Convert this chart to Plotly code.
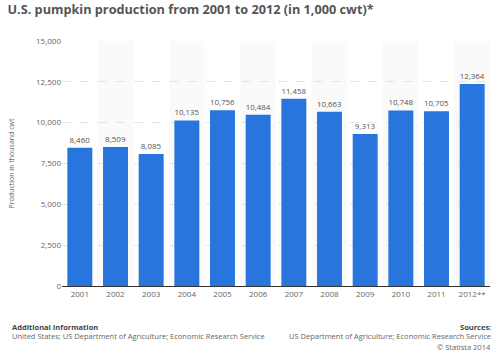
import plotly.graph_objects as go

years = ["2001", "2002", "2003", "2004", "2005", "2006", "2007", "2008", "2009", "2010", "2011", "2012**"]
production = [8460, 8509, 8085, 10135, 10756, 10484, 11458, 10663, 9313, 10748, 10705, 12364]
ytick_vals = [0, 2500, 5000, 7500, 10000, 12500, 15000]

L, R, T, B = 62, 10, 41, 65
W, H = 500, 351

fig = go.Figure()
fig.add_trace(go.Bar(
    x=years, y=production,
    marker=dict(color="#2876DD", line=dict(width=0)),
    width=0.7,
    text=[f"{v:,}" for v in production],
    textposition="outside",
    textfont=dict(family="Open Sans", size=8, color="#555555"),
    cliponaxis=False,
))

shapes = []
for i in range(1, len(years), 2):
    shapes.append(dict(type="rect", xref="x", yref="paper", x0=i - 0.5, x1=i + 0.5, y0=0, y1=1,
                       fillcolor="#FAFAFA", line=dict(width=0), layer="below"))
fig.update_layout(shapes=shapes)

fig.update_layout(
    width=W, height=H,
    margin=dict(l=L, r=R, t=T, b=B),
    paper_bgcolor="white", plot_bgcolor="white",
    showlegend=False,
    title=dict(text="<b>U.S. pumpkin production from 2001 to 2012 (in 1,000 cwt)*</b>",
               x=0.015, xanchor="left", y=0.985, yanchor="top",
               font=dict(family="Open Sans", size=12.7, color="#555555")),
    xaxis=dict(type="category", showgrid=False, ticks="", showline=True, linecolor="#333333", linewidth=1,
               tickfont=dict(family="Open Sans", size=8, color="#666666"), range=[-0.5, 11.5]),
    yaxis=dict(range=[0, 15000], tickvals=ytick_vals, tickformat=",",
               showgrid=True, gridcolor="#E3E3E3", griddash="dash", gridwidth=1,
               zeroline=False, ticks="",
               tickfont=dict(family="Open Sans", size=8, color="#666666"),
               title=dict(text="Production in thousand cwt", font=dict(family="Open Sans", size=7, color="#666666"), standoff=20)),
)

ann_font = dict(family="Open Sans", size=7.5, color="#666666")
bold_font = dict(family="Open Sans", size=7.5, color="#444444")
anns = [
    ("<b>Additional Information</b>", 10, 327, "left", bold_font),
    ("United States; US Department of Agriculture; Economic Research Service", 10, 336, "left", ann_font),
    ("<b>Sources:</b>", 493, 327, "right", bold_font),
    ("US Department of Agriculture; Economic Research Service", 493, 336, "right", ann_font),
    ("© Statista 2014", 493, 347, "right", ann_font),
]
for text, px, py, xa, f in anns:
    fig.add_annotation(xref="paper", yref="paper", showarrow=False, text=text,
                       x=(px - L) / (W - L - R), y=((H - py) - B) / (H - T - B),
                       xanchor=xa, yanchor="middle", font=f)

fig.write_html("out.html")
